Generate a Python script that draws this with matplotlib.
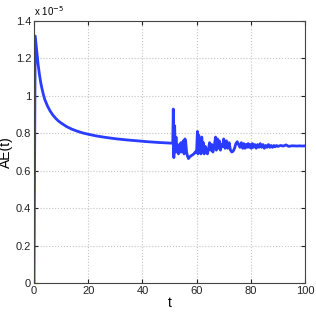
import matplotlib
matplotlib.use('Agg')
import matplotlib.pyplot as plt
from matplotlib.ticker import FuncFormatter

# AE(t) in units of 1e-5
t_decay = [0, 0.45, 1, 1.5, 2, 2.5, 3, 3.5, 4, 5, 6, 7, 8, 9, 10, 12, 14,
           16, 18, 20, 23, 26, 30, 34, 38, 42, 46, 50, 51.2]
ae_decay = [0, 1.32, 1.24, 1.17, 1.115, 1.07, 1.035, 1.005, 0.98, 0.945,
            0.918, 0.897, 0.88, 0.866, 0.855, 0.836, 0.822, 0.811, 0.802,
            0.795, 0.786, 0.779, 0.771, 0.765, 0.76, 0.755, 0.751, 0.748, 0.747]

t_osc = [51.4, 51.6, 51.9, 52.1, 52.4, 52.7, 53.0, 53.3, 53.6, 53.9, 54.2,
         54.5, 54.8, 55.1, 55.4, 55.7, 56.0, 56.3, 56.6, 57.0, 57.5, 58.0,
         58.5, 59.0, 59.5, 60.0, 60.3, 60.5, 60.8, 61.0, 61.3, 61.6, 61.9,
         62.2, 62.5, 62.8, 63.2, 63.6, 64.0, 64.4, 64.8, 65.2, 65.6, 66.0,
         66.5, 67.0, 67.3, 67.7, 68.0, 68.4, 68.8, 69.2, 69.6, 70.0, 70.5,
         71.0, 71.5, 72.0, 72.5, 73.0, 73.5, 74.0, 74.5, 75.0, 75.5, 76.0,
         76.5, 77.0, 77.4, 77.8, 78.2, 78.6, 79.0, 79.4, 79.8, 80.2, 80.6,
         81.0, 81.5, 82.0, 82.5, 83.0, 83.5, 84.0, 84.5, 85.0, 85.5, 86.0,
         86.5, 87.0, 87.5, 88.0, 88.5, 89.0, 89.5, 90, 91, 92, 93, 94, 95,
         96, 97, 98, 99, 100]
ae_osc = [0.93, 0.67, 0.84, 0.70, 0.78, 0.70, 0.74, 0.69, 0.73, 0.70, 0.75,
          0.70, 0.74, 0.76, 0.69, 0.77, 0.75, 0.70, 0.68, 0.665, 0.675, 0.68,
          0.685, 0.69, 0.70, 0.70, 0.81, 0.69, 0.79, 0.71, 0.77, 0.69, 0.78,
          0.72, 0.75, 0.69, 0.73, 0.70, 0.69, 0.72, 0.75, 0.71, 0.74, 0.70,
          0.73, 0.78, 0.71, 0.77, 0.72, 0.76, 0.71, 0.74, 0.73, 0.77, 0.72,
          0.76, 0.72, 0.75, 0.71, 0.70, 0.705, 0.72, 0.745, 0.755, 0.74, 0.725,
          0.75, 0.72, 0.745, 0.72, 0.74, 0.725, 0.745, 0.725, 0.74, 0.72, 0.745,
          0.725, 0.74, 0.72, 0.74, 0.725, 0.745, 0.725, 0.74, 0.72, 0.735, 0.725,
          0.74, 0.725, 0.735, 0.725, 0.735, 0.728, 0.735, 0.73, 0.735, 0.732,
          0.738, 0.73, 0.733, 0.733, 0.732, 0.733, 0.732, 0.733]

t = t_decay + t_osc
ae = ae_decay + ae_osc

plt.rcParams['font.family'] = ['Liberation Sans', 'DejaVu Sans']

fig = plt.figure(figsize=(3.16, 3.16), dpi=100)
ax = fig.add_axes([0.1076, 0.1044, 0.8576, 0.829])

ax.plot(t, ae, color='#2a3cff', linewidth=2)

ax.set_xlim(0, 100)
ax.set_ylim(0, 1.4)
ax.set_xticks([0, 20, 40, 60, 80, 100])
ax.set_yticks([0, 0.2, 0.4, 0.6, 0.8, 1.0, 1.2, 1.4])
ax.yaxis.set_major_formatter(FuncFormatter(lambda v, p: ('%g' % round(v, 1))))

ax.grid(True, linestyle=':', color='#c4c4c4', linewidth=0.8)
ax.tick_params(direction='in', length=3, labelsize=8, top=True, right=True,
               colors='#222222', pad=2)
for s in ax.spines.values():
    s.set_color('#444444')
    s.set_linewidth(0.8)

ax.set_xlabel('t', fontsize=10, labelpad=0)
ax.set_ylabel('AE(t)', fontsize=10, labelpad=2)
ax.text(0.0, 1.012, r'x 10$^{-5}$', transform=ax.transAxes, fontsize=7,
        ha='left', va='bottom')

fig.savefig('out.png', dpi=100)
